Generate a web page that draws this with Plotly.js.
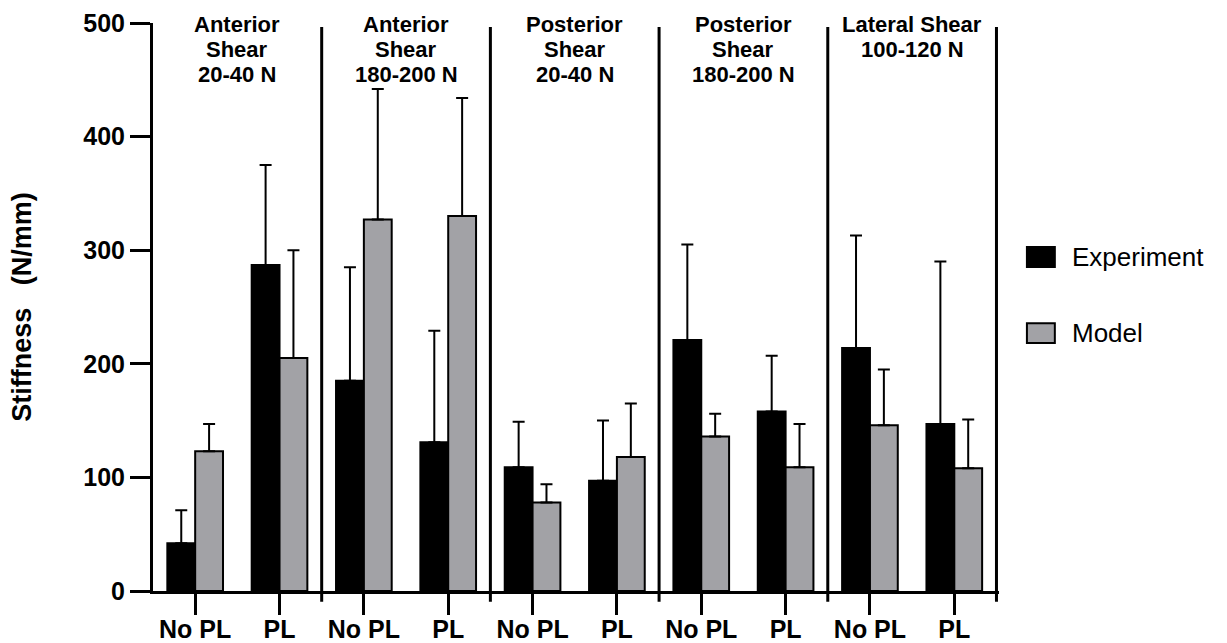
<!DOCTYPE html>
<html>
<head>
<meta charset="utf-8">
<script src="https://cdn.plot.ly/plotly-3.0.1.min.js"></script>
<style>html,body{margin:0;padding:0;background:#fff;}#chart{width:1227px;height:643px;}</style>
</head>
<body>
<div id="chart"></div>
<script>
// ---- data ----
var groups = ['Anterior<br>Shear<br>20-40 N', 'Anterior<br>Shear<br>180-200 N', 'Posterior<br>Shear<br>20-40 N', 'Posterior<br>Shear<br>180-200 N', 'Lateral Shear<br>100-120 N'];
var conditions = ['No PL', 'PL'];
var seriesNames = ['Experiment', 'Model'];
var seriesColors = ['#000000', '#a2a2a6'];
var experiment   = [42, 287, 185, 131, 109, 97, 221, 158, 214, 147];
var experimentSD = [29, 88, 100, 98, 40, 53, 84, 49, 99, 143];
var model        = [123, 205, 327, 330, 78, 118, 136, 109, 146, 108];
var modelSD      = [24, 95, 115, 104, 16, 47, 20, 38, 49, 43];
var yTicks = [0, 100, 200, 300, 400, 500];
var yTitle = 'Stiffness\u00a0\u00a0 (N/mm)';

// ---- derived ----
var xPos = [], tickText = [];
groups.forEach(function (g, gi) {
  conditions.forEach(function (c, ci) {
    xPos.push(gi * conditions.length + ci);
    tickText.push(c);
  });
});
var zeros = experiment.map(function () { return 0; });
var FONT = 'Liberation Sans, Arial, Helvetica, sans-serif';

function barTrace(name, y, sd, color) {
  return {
    type: 'bar', name: name, x: xPos, y: y, showlegend: false,
    marker: { color: color, line: { color: '#000', width: 2 } },
    error_y: { type: 'data', symmetric: false, array: sd, arrayminus: zeros,
               color: '#000', thickness: 2, width: 6 },
    hoverinfo: 'y'
  };
}

var data = [
  barTrace(seriesNames[0], experiment, experimentSD, seriesColors[0]),
  barTrace(seriesNames[1], model, modelSD, seriesColors[1])
];

// group separators
var shapes = [];
for (var i = 1; i <= groups.length; i++) {
  shapes.push({ type: 'line', xref: 'x', yref: 'paper',
    x0: i * conditions.length - 0.5, x1: i * conditions.length - 0.5,
    y0: -0.019, y1: 0.993, line: { color: '#000', width: 3 } });
}

// group titles (one annotation per line for tight leading)
var annotations = [];
groups.forEach(function (g, gi) {
  g.split('<br>').forEach(function (line, li) {
    annotations.push({ text: '<b>' + line + '</b>', xref: 'x', yref: 'paper',
      x: gi * conditions.length + (conditions.length - 1) / 2, y: 1, yshift: 13 - li * 25,
      xanchor: 'center', yanchor: 'top', showarrow: false,
      font: { family: FONT, size: 22, color: '#000' } });
  });
});

// legend (drawn with shapes + text so the swatches match the reference size)
var legendYc = [0.588, 0.454];
seriesNames.forEach(function (n, si) {
  shapes.push({ type: 'rect', xref: 'paper', yref: 'paper',
    x0: 1.033, x1: 1.066, y0: legendYc[si] - 0.0175, y1: legendYc[si] + 0.0175,
    fillcolor: seriesColors[si], line: { color: '#000', width: 2 } });
  annotations.push({ text: n, xref: 'paper', yref: 'paper', x: 1.084, y: legendYc[si],
    xanchor: 'left', yanchor: 'middle', showarrow: false,
    font: { family: FONT, size: 26, color: '#000' } });
});

var layout = {
  width: 1227, height: 643,
  margin: { l: 153, r: 228, t: 23, b: 52 },
  paper_bgcolor: '#fff', plot_bgcolor: '#fff',
  font: { family: FONT, color: '#000' },
  barmode: 'group', bargap: 0.34, bargroupgap: 0,
  showlegend: false,
  xaxis: {
    range: [-0.5, 9.53], tickvals: xPos, ticktext: tickText,
    ticks: 'outside', ticklen: 21, tickwidth: 3, tickcolor: '#000',
    ticklabelstandoff: -7,
    showline: true, linewidth: 3, linecolor: '#000',
    showgrid: false, zeroline: false,
    tickfont: { family: FONT, size: 25, color: '#000', weight: 'bold' }
  },
  yaxis: {
    range: [0, 500], tickvals: yTicks,
    ticks: 'outside', ticklen: 20, tickwidth: 3, tickcolor: '#000',
    showline: true, linewidth: 3, linecolor: '#000',
    showgrid: false, zeroline: false,
    tickfont: { family: FONT, size: 25, color: '#000', weight: 'bold' },
    title: { text: '<b>' + yTitle + '</b>', standoff: 44,
             font: { family: FONT, size: 27, color: '#000' } }
  },
  shapes: shapes,
  annotations: annotations
};

Plotly.newPlot('chart', data, layout, { displayModeBar: false, staticPlot: true });
</script>
</body>
</html>
